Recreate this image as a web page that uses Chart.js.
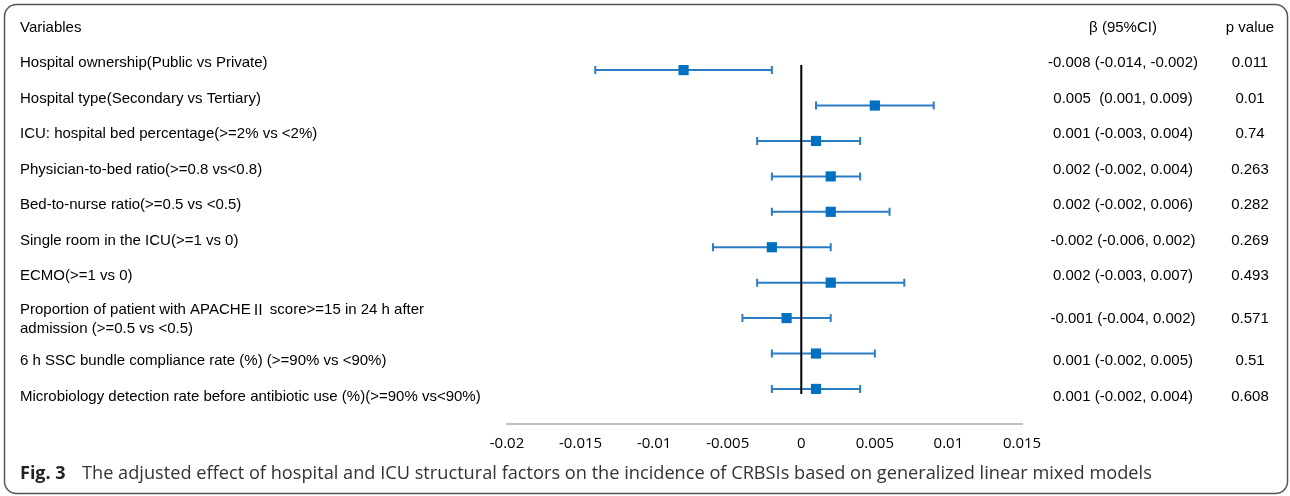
<!DOCTYPE html>
<html>
<head>
<meta charset="utf-8">
<script src="https://cdn.jsdelivr.net/npm/chart.js@4/dist/chart.umd.min.js"></script>
<style>
  html, body { margin: 0; padding: 0; background: #fff; }
  #wrap { position: relative; width: 1290px; height: 496px; }
</style>
</head>
<body>
<div id="wrap"><canvas id="forest"></canvas></div>
<script>
// data
const variables = [
  ["Hospital ownership(Public vs Private)"],
  ["Hospital type(Secondary vs Tertiary)"],
  ["ICU: hospital bed percentage(>=2% vs <2%)"],
  ["Physician-to-bed ratio(>=0.8 vs<0.8)"],
  ["Bed-to-nurse ratio(>=0.5 vs <0.5)"],
  ["Single room in the ICU(>=1 vs 0)"],
  ["ECMO(>=1 vs 0)"],
  ["Proportion of patient with APACHE\u2161 score>=15 in 24 h after", "admission (>=0.5 vs <0.5)"],
  ["6 h SSC bundle compliance rate (%) (>=90% vs <90%)"],
  ["Microbiology detection rate before antibiotic use (%)(>=90% vs<90%)"]
];
const beta  = [-0.008, 0.005, 0.001, 0.002, 0.002, -0.002, 0.002, -0.001, 0.001, 0.001];
const lower = [-0.014, 0.001, -0.003, -0.002, -0.002, -0.006, -0.003, -0.004, -0.002, -0.002];
const upper = [-0.002, 0.009, 0.004, 0.004, 0.006, 0.002, 0.007, 0.002, 0.005, 0.004];
const ciText = [
  "-0.008 (-0.014, -0.002)", "0.005  (0.001, 0.009)", "0.001 (-0.003, 0.004)",
  "0.002 (-0.002, 0.004)", "0.002 (-0.002, 0.006)", "-0.002 (-0.006, 0.002)",
  "0.002 (-0.003, 0.007)", "-0.001 (-0.004, 0.002)", "0.001 (-0.002, 0.005)",
  "0.001 (-0.002, 0.004)"
];
const pValues = ["0.011", "0.01", "0.74", "0.263", "0.282", "0.269", "0.493", "0.571", "0.51", "0.608"];
const xTicks = [-0.02, -0.015, -0.01, -0.005, 0, 0.005, 0.01, 0.015];

// table text rows (pixel layout, not data)
const headerY = 28;
const textRowY = [63, 99, 134, 170, 205, 241, 276, 319, 361, 397];
const SANS = "15px 'Liberation Sans', Arial, sans-serif";
const CJK = "15px 'Noto Sans CJK SC', sans-serif";

// the roman numeral II is a wide CJK glyph in the original
function drawLabel(ctx, text, x, y) {
  const parts = text.split("\u2161");
  let cx = x;
  parts.forEach((p, k) => {
    ctx.font = SANS;
    ctx.fillText(p, cx, y);
    cx += ctx.measureText(p).width;
    if (k < parts.length - 1) {
      ctx.font = CJK;
      ctx.fillText("\u2161", cx, y);
      cx += ctx.measureText("\u2161").width;
    }
  });
  ctx.font = SANS;
}

const tablePlugin = {
  id: "table",
  beforeDatasetsDraw(chart) {
    const { ctx, scales: { x, y } } = chart;
    ctx.save();
    // CI whiskers
    ctx.strokeStyle = "#2a7cc4";
    ctx.lineWidth = 2;
    beta.forEach((b, i) => {
      const yy = y.getPixelForValue(i);
      const x0 = x.getPixelForValue(lower[i]);
      const x1 = x.getPixelForValue(upper[i]);
      ctx.beginPath();
      ctx.moveTo(x0, yy); ctx.lineTo(x1, yy);
      ctx.moveTo(x0, yy - 4); ctx.lineTo(x0, yy + 4);
      ctx.moveTo(x1, yy - 4); ctx.lineTo(x1, yy + 4);
      ctx.stroke();
    });
    // zero reference line
    const zx = x.getPixelForValue(0);
    ctx.strokeStyle = "#000";
    ctx.lineWidth = 2;
    ctx.beginPath();
    ctx.moveTo(zx, y.getPixelForValue(0) - 5);
    ctx.lineTo(zx, y.getPixelForValue(beta.length - 1) + 5);
    ctx.stroke();
    ctx.restore();
  },
  afterDraw(chart) {
    const ctx = chart.ctx;
    ctx.save();
    // outer frame
    ctx.strokeStyle = "#555";
    ctx.lineWidth = 1.5;
    ctx.beginPath();
    ctx.roundRect(4.5, 4.5, 1283, 489, 12);
    ctx.stroke();

    ctx.fillStyle = "#000";
    ctx.font = SANS;
    ctx.textBaseline = "middle";
    ctx.textAlign = "left";
    ctx.fillText("Variables", 20, headerY);
    variables.forEach((lines, i) => {
      const cy = textRowY[i];
      const lh = 19;
      const start = cy - (lines.length - 1) * lh / 2;
      lines.forEach((t, k) => drawLabel(ctx, t, 20, start + k * lh));
    });
    ctx.textAlign = "center";
    ctx.fillText("\u03B2 (95%CI)", 1123, headerY);
    ctx.fillText("p value", 1250, headerY);
    ciText.forEach((t, i) => ctx.fillText(t, 1123, textRowY[i]));
    pValues.forEach((t, i) => ctx.fillText(t, 1250, textRowY[i]));

    // caption
    ctx.textAlign = "left";
    ctx.font = "bold 18px 'Open Sans', sans-serif";
    ctx.fillStyle = "#222";
    ctx.fillText("Fig. 3", 20, 474);
    ctx.font = "18.2px 'Open Sans', sans-serif";
    ctx.fillStyle = "#333";
    ctx.fillText("The adjusted effect of hospital and ICU structural factors on the incidence of CRBSIs based on generalized linear mixed models", 82, 474);
    ctx.restore();
  }
};

new Chart(document.getElementById("forest"), {
  type: "scatter",
  data: {
    datasets: [{
      data: beta.map((b, i) => ({ x: b, y: i })),
      pointStyle: "rect",
      pointRadius: 7.2,
      pointHoverRadius: 7.2,
      pointBorderWidth: 0,
      backgroundColor: "#0070c0",
      borderColor: "#0070c0"
    }]
  },
  options: {
    responsive: true,
    maintainAspectRatio: false,
    animation: false,
    events: [],
    layout: { padding: { left: 507, right: 268, top: 40, bottom: 32 } },
    plugins: { legend: { display: false }, tooltip: { enabled: false } },
    scales: {
      x: {
        type: "linear",
        min: -0.02,
        max: 0.015,
        afterBuildTicks: (axis) => { axis.ticks = xTicks.map(v => ({ value: v })); },
        ticks: {
          padding: 11,
          color: "#000",
          font: { family: "'Open Sans', sans-serif", size: 15 },
          callback: (v) => String(v)
        },
        grid: { display: false, drawTicks: false },
        border: { display: true, color: "#c0c0c0", width: 2 }
      },
      y: {
        type: "linear",
        display: false,
        reverse: true,
        min: -0.85,
        max: 9.99
      }
    }
  },
  plugins: [tablePlugin]
});
</script>
</body>
</html>
